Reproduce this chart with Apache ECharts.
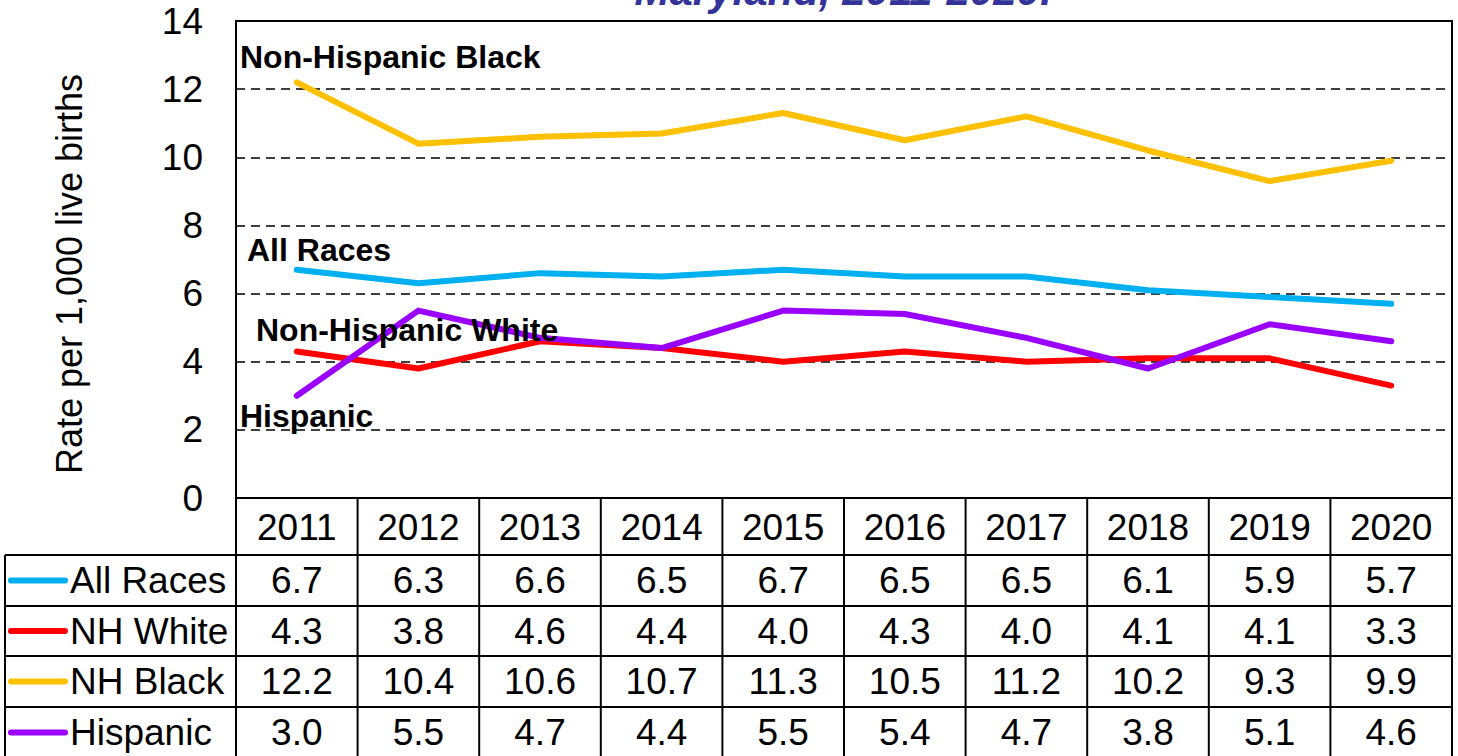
<!DOCTYPE html>
<html>
<head>
<meta charset="utf-8">
<script src="https://cdn.jsdelivr.net/npm/echarts@6/dist/echarts.min.js"></script>
<style>
html, body { margin: 0; padding: 0; background: #fff; }
#chart { width: 1458px; height: 756px; }
</style>
</head>
<body>
<div id="chart"></div>
<script>
// data
const years = ['2011', '2012', '2013', '2014', '2015', '2016', '2017', '2018', '2019', '2020'];
const allRaces = [6.7, 6.3, 6.6, 6.5, 6.7, 6.5, 6.5, 6.1, 5.9, 5.7];
const nhWhite = [4.3, 3.8, 4.6, 4.4, 4.0, 4.3, 4.0, 4.1, 4.1, 3.3];
const nhBlack = [12.2, 10.4, 10.6, 10.7, 11.3, 10.5, 11.2, 10.2, 9.3, 9.9];
const hispanic = [3.0, 5.5, 4.7, 4.4, 5.5, 5.4, 4.7, 3.8, 5.1, 4.6];
const tableNames = ['All Races', 'NH White', 'NH Black', 'Hispanic'];
const tableData = [allRaces, nhWhite, nhBlack, hispanic];
const colors = ['#00b0f0', '#ff0000', '#ffc000', '#9900ff'];

const FONT = '"Liberation Sans", Arial, sans-serif';
const chart = echarts.init(document.getElementById('chart'), null, { renderer: 'svg' });

function lineSeries(name, data, color) {
    return {
        name: name,
        type: 'line',
        data: data,
        symbol: 'none',
        color: color,
        lineStyle: { color: color, width: 6, cap: 'round', join: 'round' },
        animation: false
    };
}

chart.setOption({
    animation: false,
    textStyle: { fontFamily: FONT },
    grid: {
        left: 236, right: 6, top: 21, bottom: 258,
        show: true, borderColor: '#000', borderWidth: 2
    },
    xAxis: {
        type: 'category',
        data: years,
        axisLine: { lineStyle: { color: '#000', width: 2 } },
        axisTick: { show: false },
        axisLabel: { color: '#000', fontSize: 37, fontFamily: FONT, margin: 11 }
    },
    yAxis: {
        type: 'value',
        min: 0, max: 14, interval: 2,
        axisLine: { show: false },
        axisTick: { show: false },
        axisLabel: { color: '#000', fontSize: 37, fontFamily: FONT, margin: 33 },
        splitLine: { lineStyle: { color: '#000', width: 1.5, type: [9, 6] } }
    },
    series: [
        lineSeries('All Races', allRaces, colors[0]),
        lineSeries('NH White', nhWhite, colors[1]),
        lineSeries('NH Black', nhBlack, colors[2]),
        lineSeries('Hispanic', hispanic, colors[3])
    ]
});

// data table below the plot, columns lined up with the category axis
const centers = years.map((y, i) => chart.convertToPixel({ xAxisIndex: 0 }, i));
const half = (centers[1] - centers[0]) / 2;
const plotLeft = centers[0] - half;
const plotRight = centers[centers.length - 1] + half;
const tableLeft = 5;
const axisY = 498;
const rowTops = [555, 606, 656, 707, 758];

const g = [];
// title (only its last line shows in the frame)
g.push({
    type: 'text', x: 843, y: 11, z: 100,
    style: {
        text: 'Maryland, 2011-2020.', fill: '#333399',
        font: 'italic bold 42px ' + FONT, align: 'center', verticalAlign: 'bottom'
    }
});
// y axis title
g.push({
    type: 'text', x: 69, y: 274, rotation: Math.PI / 2, z: 100,
    style: { text: 'Rate per 1,000 live births', fill: '#000', font: '36px ' + FONT, align: 'center', verticalAlign: 'middle' }
});
// series labels inside the plot
const inLabels = [
    ['Non-Hispanic Black', 240, 57],
    ['All Races', 247, 250],
    ['Non-Hispanic White', 256, 330],
    ['Hispanic', 240, 416]
];
inLabels.forEach(l => g.push({
    type: 'text', x: l[1], y: l[2], z: 100,
    style: { text: l[0], fill: '#000', font: 'bold 32px ' + FONT, align: 'left', verticalAlign: 'middle' }
}));

const stroke = { stroke: '#000', lineWidth: 2 };
// horizontal rules
rowTops.forEach(y => g.push({
    type: 'line', z: 50, shape: { x1: tableLeft, y1: y, x2: plotRight, y2: y }, style: stroke
}));
// vertical rules
g.push({ type: 'line', z: 50, shape: { x1: tableLeft, y1: rowTops[0], x2: tableLeft, y2: 760 }, style: stroke });
for (let k = 0; k <= years.length; k++) {
    const x = plotLeft + k * 2 * half;
    g.push({ type: 'line', z: 50, shape: { x1: x, y1: axisY, x2: x, y2: 760 }, style: stroke });
}
// rows
tableData.forEach((vals, r) => {
    const cy = (rowTops[r] + rowTops[r + 1]) / 2;
    g.push({
        type: 'line', z: 60,
        shape: { x1: 11, y1: cy, x2: 65, y2: cy },
        style: { stroke: colors[r], lineWidth: 6, lineCap: 'round' }
    });
    g.push({
        type: 'text', x: 70, y: cy, z: 60,
        style: { text: tableNames[r], fill: '#000', font: '37px ' + FONT, align: 'left', verticalAlign: 'middle' }
    });
    vals.forEach((v, i) => g.push({
        type: 'text', x: centers[i], y: cy, z: 60,
        style: { text: v.toFixed(1), fill: '#000', font: '37px ' + FONT, align: 'center', verticalAlign: 'middle' }
    }));
});

chart.setOption({ graphic: g });
</script>
</body>
</html>
